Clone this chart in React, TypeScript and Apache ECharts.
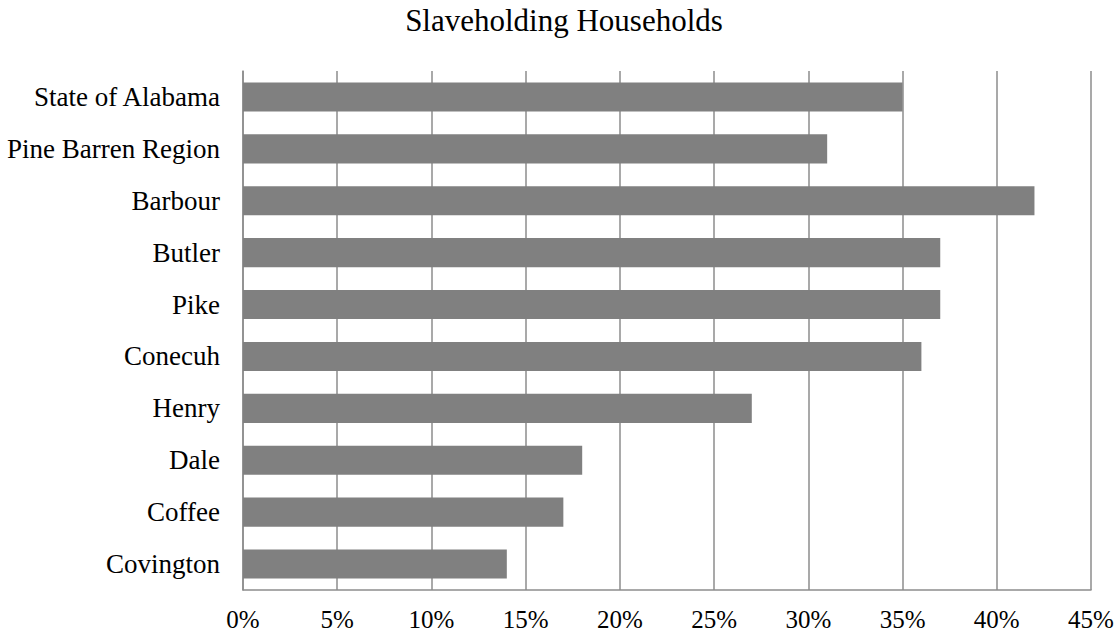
import React, { useEffect, useRef } from "react";
import * as echarts from "echarts";

const categories = [
  "State of Alabama",
  "Pine Barren Region",
  "Barbour",
  "Butler",
  "Pike",
  "Conecuh",
  "Henry",
  "Dale",
  "Coffee",
  "Covington",
];
const values = [35, 31, 42, 37, 37, 36, 27, 18, 17, 14];
const titleText = "Slaveholding Households";

export default function App() {
  const ref = useRef<HTMLDivElement>(null);
  useEffect(() => {
    if (!ref.current) return;
    const chart = echarts.init(ref.current, null, { renderer: "svg" });
    const font = "'Liberation Serif', 'Times New Roman', serif";
    chart.setOption({
      animation: false,
      backgroundColor: "#ffffff",
      textStyle: { fontFamily: font },
      graphic: [
        {
          type: "text",
          x: 564,
          y: 20,
          style: {
            text: titleText,
            fontFamily: font,
            fontSize: 31,
            fill: "#000",
            textAlign: "center",
            textVerticalAlign: "middle",
          },
        },
      ],
      grid: { left: 243, right: 28, top: 71, bottom: 44, containLabel: false },
      xAxis: {
        type: "value",
        min: 0,
        max: 45,
        interval: 5,
        axisLine: { show: true, lineStyle: { color: "#8c8c8c", width: 1.5 } },
        axisTick: { show: false },
        splitLine: { show: true, lineStyle: { color: "#8c8c8c", width: 1.5 } },
        axisLabel: {
          formatter: (v: number) => v + "%",
          fontFamily: font,
          fontSize: 25,
          color: "#000",
          margin: 17,
        },
      },
      yAxis: {
        type: "category",
        data: categories,
        inverse: true,
        axisLine: { show: true, lineStyle: { color: "#8c8c8c", width: 1.5 } },
        axisTick: { show: false },
        axisLabel: {
          fontFamily: font,
          fontSize: 27,
          color: "#000",
          margin: 23,
        },
      },
      series: [
        {
          type: "bar",
          data: values,
          barWidth: "56%",
          itemStyle: { color: "#808080" },
        },
      ],
    });
    return () => chart.dispose();
  }, []);
  return (
    <div
      ref={ref}
      style={{ position: "fixed", left: 0, top: 0, width: 1119, height: 634 }}
    />
  );
}
